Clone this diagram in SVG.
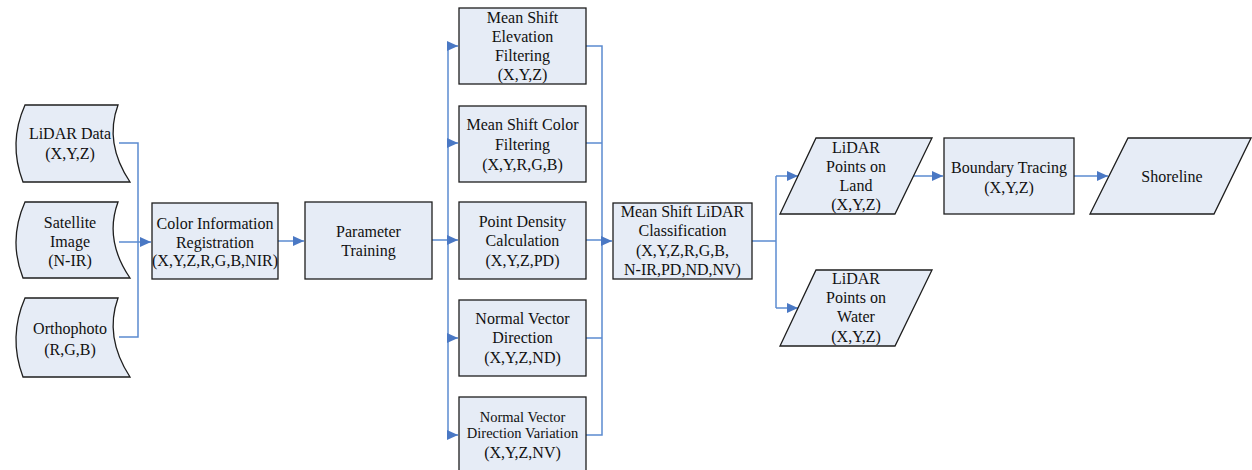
<svg xmlns="http://www.w3.org/2000/svg" width="1252" height="470" viewBox="0 0 1252 470">
<style>
.n{fill:#e6ecf6;stroke:#1e1e1e;stroke-width:1.3}
.t{font-family:"Liberation Serif","Times New Roman",serif;font-size:16px;fill:#111;text-anchor:middle}
.s{font-size:14.5px}
.c{fill:none;stroke:#5b8bd0;stroke-width:1.5}
</style>
<defs>
<marker id="a" markerUnits="userSpaceOnUse" markerWidth="11" markerHeight="10" refX="11" refY="5" orient="auto">
<path d="M0,0 L11,5 L0,10 z" fill="#4a78c4"/>
</marker>
</defs>
<rect width="1252" height="470" fill="#fff"/>
<g id="connectors">
<path class="c" d="M119,143 H138 V337 H119"/>
<path class="c" d="M119,242 H151" marker-end="url(#a)"/>
<path class="c" d="M278,241 H304" marker-end="url(#a)"/>
<path class="c" d="M432,240 H448"/>
<path class="c" d="M448,46 V435"/>
<path class="c" d="M448,46 H458" marker-end="url(#a)"/>
<path class="c" d="M448,143 H458" marker-end="url(#a)"/>
<path class="c" d="M448,240 H458" marker-end="url(#a)"/>
<path class="c" d="M448,338 H458" marker-end="url(#a)"/>
<path class="c" d="M448,435 H458" marker-end="url(#a)"/>
<path class="c" d="M586,46 H602 V435 H586"/>
<path class="c" d="M586,143 H602"/>
<path class="c" d="M586,240 H602"/>
<path class="c" d="M586,338 H602"/>
<path class="c" d="M602,241 H612" marker-end="url(#a)"/>
<path class="c" d="M752,241 H776"/>
<path class="c" d="M776,176 V308"/>
<path class="c" d="M776,176 H798" marker-end="url(#a)"/>
<path class="c" d="M776,308 H798" marker-end="url(#a)"/>
<path class="c" d="M913,176 H943" marker-end="url(#a)"/>
<path class="c" d="M1074,176 H1108" marker-end="url(#a)"/>
</g>
<g id="lidar-data">
<path class="n" d="M25,105 H118 Q104,143 130,182 H23 Q8,143 25,105 Z"/>
<text class="t" x="70" y="138.5">LiDAR Data</text>
<text class="t" x="70" y="158.5">(X,Y,Z)</text>
</g>
<g id="satellite-image">
<path class="n" d="M25,202 H118 Q104,240 130,278 H23 Q8,240 25,202 Z"/>
<text class="t" x="70" y="227.5">Satellite</text>
<text class="t" x="70" y="246.5">Image</text>
<text class="t" x="70" y="265.5">(N-IR)</text>
</g>
<g id="orthophoto">
<path class="n" d="M25,298 H118 Q104,337 130,377 H23 Q8,337 25,298 Z"/>
<text class="t" x="70" y="333.5">Orthophoto</text>
<text class="t" x="70" y="354.5">(R,G,B)</text>
</g>
<g id="color-registration">
<rect class="n" x="152" y="203" width="126" height="76"/>
<text class="t" x="215" y="228.5">Color Information</text>
<text class="t" x="215" y="247.5">Registration</text>
<text class="t" x="215" y="265.5">(X,Y,Z,R,G,B,NIR)</text>
</g>
<g id="parameter-training">
<rect class="n" x="305" y="202" width="127" height="77"/>
<text class="t" x="368.5" y="236.5">Parameter</text>
<text class="t" x="368.5" y="255.5">Training</text>
</g>
<g id="elevation-filtering">
<rect class="n" x="459" y="8" width="127" height="76"/>
<text class="t" x="522.5" y="23">Mean Shift</text>
<text class="t" x="522.5" y="42">Elevation</text>
<text class="t" x="522.5" y="61">Filtering</text>
<text class="t" x="522.5" y="80">(X,Y,Z)</text>
</g>
<g id="color-filtering">
<rect class="n" x="459" y="106" width="127" height="76"/>
<text class="t" x="522.5" y="129.5">Mean Shift Color</text>
<text class="t" x="522.5" y="149.5">Filtering</text>
<text class="t" x="522.5" y="169.5">(X,Y,R,G,B)</text>
</g>
<g id="point-density">
<rect class="n" x="459" y="202" width="127" height="77"/>
<text class="t" x="522.5" y="226.5">Point Density</text>
<text class="t" x="522.5" y="245.5">Calculation</text>
<text class="t" x="522.5" y="265.5">(X,Y,Z,PD)</text>
</g>
<g id="normal-direction">
<rect class="n" x="459" y="300" width="127" height="76"/>
<text class="t" x="522.5" y="323.5">Normal Vector</text>
<text class="t" x="522.5" y="342.5">Direction</text>
<text class="t" x="522.5" y="362.5">(X,Y,Z,ND)</text>
</g>
<g id="normal-variation">
<rect class="n" x="459" y="397" width="127" height="76"/>
<text class="t s" x="522.5" y="421.5">Normal Vector</text>
<text class="t s" x="522.5" y="438">Direction Variation</text>
<text class="t" x="522.5" y="457.5">(X,Y,Z,NV)</text>
</g>
<g id="lidar-classification">
<rect class="n" x="613" y="203" width="139" height="76"/>
<text class="t" x="682.5" y="217">Mean Shift LiDAR</text>
<text class="t" x="682.5" y="236">Classification</text>
<text class="t" x="682.5" y="256">(X,Y,Z,R,G,B,</text>
<text class="t" x="682.5" y="275">N-IR,PD,ND,NV)</text>
</g>
<g id="points-land">
<path class="n" d="M816,138 H932 L895,214 H780 Z"/>
<text class="t" x="856" y="152.5">LiDAR</text>
<text class="t" x="856" y="171.5">Points on</text>
<text class="t" x="856" y="190.5">Land</text>
<text class="t" x="856" y="210">(X,Y,Z)</text>
</g>
<g id="points-water">
<path class="n" d="M816,270 H932 L895,346 H780 Z"/>
<text class="t" x="856" y="283.5">LiDAR</text>
<text class="t" x="856" y="302.5">Points on</text>
<text class="t" x="856" y="321.5">Water</text>
<text class="t" x="856" y="341.5">(X,Y,Z)</text>
</g>
<g id="boundary-tracing">
<rect class="n" x="944" y="138" width="130" height="76"/>
<text class="t" x="1009" y="172.5">Boundary Tracing</text>
<text class="t" x="1009" y="192.5">(X,Y,Z)</text>
</g>
<g id="shoreline">
<path class="n" d="M1128,138 H1251 L1214,214 H1090 Z"/>
<text class="t" x="1172" y="181.5">Shoreline</text>
</g>
</svg>
